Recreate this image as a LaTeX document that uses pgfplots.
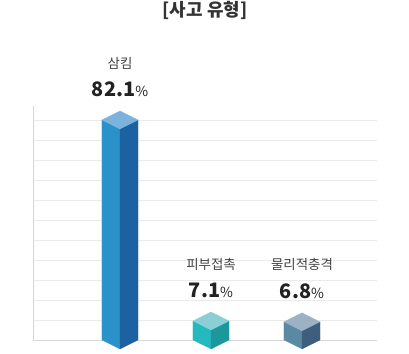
\documentclass[border=0pt]{standalone}
\usepackage{pgfplots}
\pgfplotsset{compat=1.18}
\usepackage{fontspec}
\setmainfont{Noto Sans CJK KR}
\definecolor{titlec}{HTML}{333333}
\definecolor{catc}{HTML}{444444}
\definecolor{valc}{HTML}{222222}
\definecolor{gridc}{HTML}{EBEBEB}
\definecolor{linec}{HTML}{D6D6D6}
\definecolor{bAl}{HTML}{2B91C9}
\definecolor{bAr}{HTML}{1C62A2}
\definecolor{bAt}{HTML}{7CB3DC}
\definecolor{bBl}{HTML}{24B9BE}
\definecolor{bBr}{HTML}{1C979B}
\definecolor{bBt}{HTML}{8BCFD6}
\definecolor{bCl}{HTML}{5A8AA1}
\definecolor{bCr}{HTML}{3E5E7E}
\definecolor{bCt}{HTML}{9CB2C4}
% prism: center, value, left colour, right colour, top colour
\newcommand\prism[5]{%
  \pgfmathsetmacro\pL{#1-0.198}%
  \pgfmathsetmacro\pR{#1+0.198}%
  \pgfmathsetmacro\pVd{#2-3.359}%
  \pgfmathsetmacro\pVu{#2+3.359}%
  \edef\doplot{%
    \noexpand\addplot[fill=#3,draw=#3,line width=0.2pt] coordinates {(\pL,0) (#1,-3.359) (#1,\pVd) (\pL,#2)} -- cycle;
    \noexpand\addplot[fill=#4,draw=#4,line width=0.2pt] coordinates {(#1,-3.359) (\pR,0) (\pR,#2) (#1,\pVd)} -- cycle;
    \noexpand\addplot[fill=#5,draw=#5,line width=0.2pt] coordinates {(\pL,#2) (#1,\pVd) (\pR,#2) (#1,\pVu)} -- cycle;
  }\doplot
}
\newcommand\barlabel[3]{% center, value, category
  \node[font=\fontsize{13.5}{14}\selectfont, text=catc] at (axis cs:#1,#2+3.359) [yshift=48bp] {#3};
  \node[text=valc] at (axis cs:#1,#2+3.359) [yshift=22bp] {{\fontsize{20}{20}\selectfont\bfseries #2}{\fontsize{14}{14}\selectfont\%}};
}
\begin{document}
\begin{tikzpicture}
\useasboundingbox (0,0) rectangle (409bp,354bp);
\node[font=\fontsize{18}{18}\selectfont\bfseries, text=titlec] at (205bp,344bp) {[사고 유형]};
\begin{axis}[
  at={(33bp,14bp)}, anchor=south west,
  scale only axis, width=344bp, height=234bp,
  xmin=0.044, xmax=3.824, ymin=0, ymax=87.32,
  clip=false,
  axis x line=bottom, axis y line=left,
  axis line style={-, draw=linec, line width=0.9pt},
  xtick=\empty, ytick distance=7.46364, yticklabels={},
  major tick length=0pt,
  ymajorgrids, grid style={draw=gridc, line width=0.8pt},
]
\prism{1}{82.1}{bAl}{bAr}{bAt}
\prism{2}{7.1}{bBl}{bBr}{bBt}
\prism{3}{6.8}{bCl}{bCr}{bCt}
\barlabel{1}{82.1}{삼킴}
\barlabel{2}{7.1}{피부접촉}
\barlabel{3}{6.8}{물리적충격}
\end{axis}
\end{tikzpicture}
\end{document}
